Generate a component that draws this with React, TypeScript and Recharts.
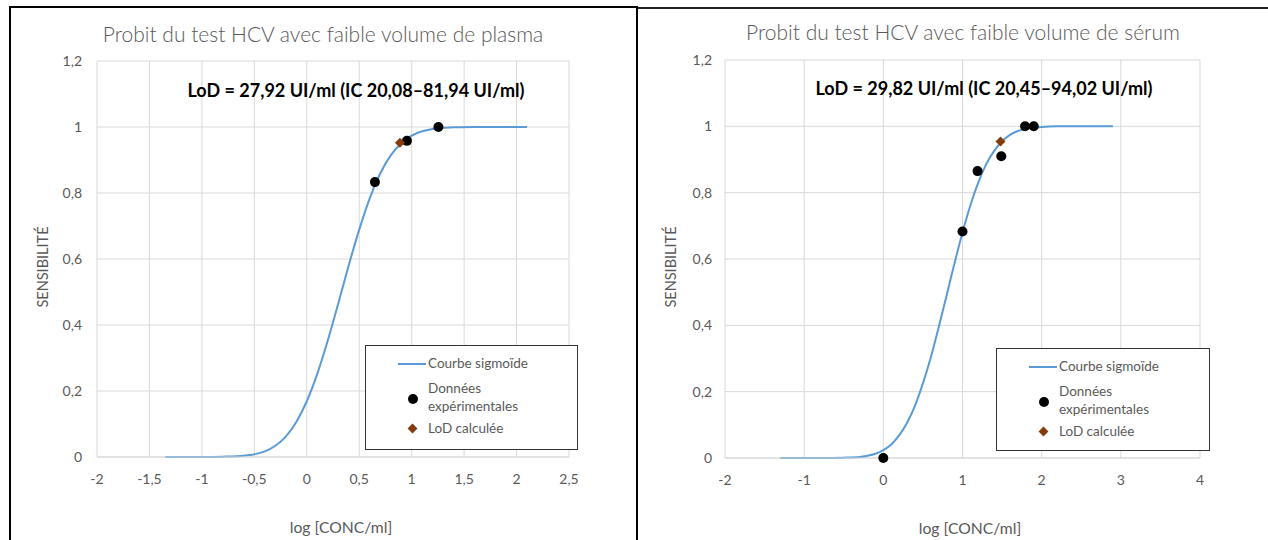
import React from 'react';
import {
  ComposedChart,
  Line,
  Scatter,
  XAxis,
  YAxis,
  CartesianGrid,
} from 'recharts';

// --- plasma (left) ---
const plasmaCurveX = [-1.35, -1.0, -0.8, -0.6, -0.5, -0.4, -0.3, -0.2, -0.1, 0, 0.1, 0.2, 0.3, 0.4, 0.5, 0.6, 0.7, 0.8, 0.9, 1.0, 1.1, 1.2, 1.3, 1.4, 1.6, 2.1];
const plasmaCurveY = [0, 0, 0.001, 0.004, 0.008, 0.017, 0.034, 0.062, 0.106, 0.169, 0.252, 0.353, 0.465, 0.581, 0.689, 0.784, 0.859, 0.914, 0.951, 0.974, 0.987, 0.994, 0.998, 0.999, 1, 1];
const plasmaPointsX = [0.65, 0.955, 1.255];
const plasmaPointsY = [0.833, 0.958, 1.0];
const plasmaLodX = [0.888];
const plasmaLodY = [0.952];
const plasmaTicks = [-2, -1.5, -1, -0.5, 0, 0.5, 1, 1.5, 2, 2.5];

// --- sérum (right) ---
const serumCurveX = [-1.3, -0.8, -0.5, -0.3, -0.2, -0.1, 0, 0.1, 0.2, 0.3, 0.4, 0.5, 0.6, 0.7, 0.8, 0.9, 1.0, 1.1, 1.2, 1.3, 1.4, 1.5, 1.6, 1.7, 1.8, 2.0, 2.2, 2.9];
const serumCurveY = [0, 0, 0.001, 0.003, 0.007, 0.013, 0.024, 0.041, 0.068, 0.106, 0.158, 0.225, 0.304, 0.395, 0.491, 0.588, 0.68, 0.762, 0.831, 0.886, 0.926, 0.955, 0.974, 0.986, 0.992, 0.998, 1, 1];
const serumPointsX = [0, 1.0, 1.19, 1.49, 1.79, 1.9];
const serumPointsY = [0, 0.683, 0.865, 0.91, 1.0, 1.0];
const serumLodX = [1.48];
const serumLodY = [0.954];
const serumTicks = [-2, -1, 0, 1, 2, 3, 4];

const yTicks = [0, 0.2, 0.4, 0.6, 0.8, 1, 1.2];

const FONT = "Lato, 'Open Sans', sans-serif";
const GREY = '#595959';
const BLUE = '#5B9BD5';
const BROWN = '#843C0C';

const zip = (xs: number[], ys: number[]) => xs.map((x, i) => ({ x, y: ys[i] }));
const fmt = (v: number) => String(v).replace('.', ',');

const Dot = (props: any) => <circle cx={props.cx} cy={props.cy} r={5} fill="#000" />;
const Diamond = (props: any) => {
  const { cx, cy } = props;
  return <polygon points={`${cx},${cy - 5} ${cx + 5},${cy} ${cx},${cy + 5} ${cx - 5},${cy}`} fill={BROWN} />;
};

interface PanelProps {
  left: number;
  width: number;
  yAxisWidth: number;
  rightMargin: number;
  top: number;
  bottom: number;
  domain: [number, number];
  ticks: number[];
  curve: { x: number; y: number }[];
  points: { x: number; y: number }[];
  lod: { x: number; y: number }[];
  yTickMargin: number;
}

function Panel(p: PanelProps) {
  return (
    <div style={{ position: 'absolute', left: p.left, top: 0 }}>
      <ComposedChart
        width={p.width}
        height={540}
        margin={{ top: p.top, right: p.rightMargin, left: 0, bottom: p.bottom }}
      >
        <CartesianGrid stroke="#d9d9d9" />
        <XAxis
          type="number"
          dataKey="x"
          domain={p.domain}
          ticks={p.ticks}
          interval={0}
          tickFormatter={fmt}
          tickLine={false}
          axisLine={{ stroke: '#d9d9d9' }}
          tick={{ fill: GREY, fontSize: 14, fontFamily: FONT }}
          tickMargin={11}
          height={30}
        />
        <YAxis
          type="number"
          dataKey="y"
          domain={[0, 1.2]}
          ticks={yTicks}
          interval={0}
          tickFormatter={fmt}
          tickLine={false}
          axisLine={false}
          tick={{ fill: GREY, fontSize: 14, fontFamily: FONT }}
          tickMargin={p.yTickMargin}
          width={p.yAxisWidth}
        />
        <Line
          data={p.curve}
          dataKey="y"
          type="monotone"
          stroke={BLUE}
          strokeWidth={2}
          dot={false}
          isAnimationActive={false}
        />
        <Scatter data={p.points} dataKey="y" shape={<Dot />} isAnimationActive={false} />
        <Scatter data={p.lod} dataKey="y" shape={<Diamond />} isAnimationActive={false} />
      </ComposedChart>
    </div>
  );
}

function LegendBox({ left, top, width, height }: { left: number; top: number; width: number; height: number }) {
  const text: React.CSSProperties = { position: 'absolute', left: 62, fontSize: 13.5, color: GREY, lineHeight: '18px' };
  return (
    <div
      style={{
        position: 'absolute',
        left,
        top,
        width,
        height,
        border: '1.5px solid #333',
        background: '#fff',
        fontFamily: FONT,
        boxSizing: 'border-box',
      }}
    >
      <div style={{ position: 'absolute', left: 32, top: 17, width: 28, height: 2, background: BLUE }} />
      <div style={{ ...text, top: 8 }}>Courbe sigmoïde</div>
      <div style={{ position: 'absolute', left: 42, top: 48, width: 10, height: 10, borderRadius: 5, background: '#000' }} />
      <div style={{ ...text, top: 33 }}>Données</div>
      <div style={{ ...text, top: 51 }}>expérimentales</div>
      <div
        style={{
          position: 'absolute',
          left: 43,
          top: 79,
          width: 7,
          height: 7,
          background: BROWN,
          transform: 'rotate(45deg)',
        }}
      />
      <div style={{ ...text, top: 73 }}>LoD calculée</div>
    </div>
  );
}

const abs = (s: React.CSSProperties): React.CSSProperties => ({ position: 'absolute', fontFamily: FONT, whiteSpace: 'nowrap', ...s });

export default function App() {
  return (
    <div style={{ position: 'absolute', left: 0, top: 0, width: 1268, height: 540, background: '#fff', overflow: 'hidden' }}>
      {/* frames */}
      <div style={{ position: 'absolute', left: 9, top: 6, width: 629, height: 560, border: '2px solid #000', boxSizing: 'border-box' }} />
      <div style={{ position: 'absolute', left: 638, top: 7, width: 630, height: 1.5, background: '#222' }} />

      <Panel
        left={0}
        width={640}
        yAxisWidth={97}
        rightMargin={71}
        top={61}
        bottom={53}
        domain={[-2, 2.5]}
        ticks={plasmaTicks}
        curve={zip(plasmaCurveX, plasmaCurveY)}
        points={zip(plasmaPointsX, plasmaPointsY)}
        lod={zip(plasmaLodX, plasmaLodY)}
        yTickMargin={9}
      />
      <Panel
        left={640}
        width={628}
        yAxisWidth={85}
        rightMargin={68}
        top={60}
        bottom={52}
        domain={[-2, 4]}
        ticks={serumTicks}
        curve={zip(serumCurveX, serumCurveY)}
        points={zip(serumPointsX, serumPointsY)}
        lod={zip(serumLodX, serumLodY)}
        yTickMargin={7}
      />

      {/* titles */}
      <div style={abs({ left: 323, top: 33, transform: 'translate(-50%,-50%)', fontSize: 21, color: GREY, fontWeight: 300 })}>
        Probit du test HCV avec faible volume de plasma
      </div>
      <div style={abs({ left: 963, top: 31, transform: 'translate(-50%,-50%)', fontSize: 21, color: GREY, fontWeight: 300 })}>
        Probit du test HCV avec faible volume de sérum
      </div>

      {/* LoD annotations */}
      <div style={abs({ left: 356, top: 90, transform: 'translate(-50%,-50%)', fontSize: 18, fontWeight: 700, color: '#000' })}>
        LoD = 27,92 UI/ml (IC 20,08–81,94 UI/ml)
      </div>
      <div style={abs({ left: 984, top: 88, transform: 'translate(-50%,-50%)', fontSize: 18, fontWeight: 700, color: '#000' })}>
        LoD = 29,82 UI/ml (IC 20,45–94,02 UI/ml)
      </div>

      {/* axis titles */}
      <div style={abs({ left: 42, top: 267, transform: 'translate(-50%,-50%) rotate(-90deg)', fontSize: 14.5, color: GREY })}>
        SENSIBILITÉ
      </div>
      <div style={abs({ left: 670, top: 267, transform: 'translate(-50%,-50%) rotate(-90deg)', fontSize: 14.5, color: GREY })}>
        SENSIBILITÉ
      </div>
      <div style={abs({ left: 341, top: 527, transform: 'translate(-50%,-50%)', fontSize: 15.7, color: GREY })}>
        log [CONC/ml]
      </div>
      <div style={abs({ left: 970, top: 528, transform: 'translate(-50%,-50%)', fontSize: 15.7, color: GREY })}>
        log [CONC/ml]
      </div>

      <LegendBox left={365} top={345} width={213} height={105} />
      <LegendBox left={996} top={348} width={214} height={103} />
    </div>
  );
}
